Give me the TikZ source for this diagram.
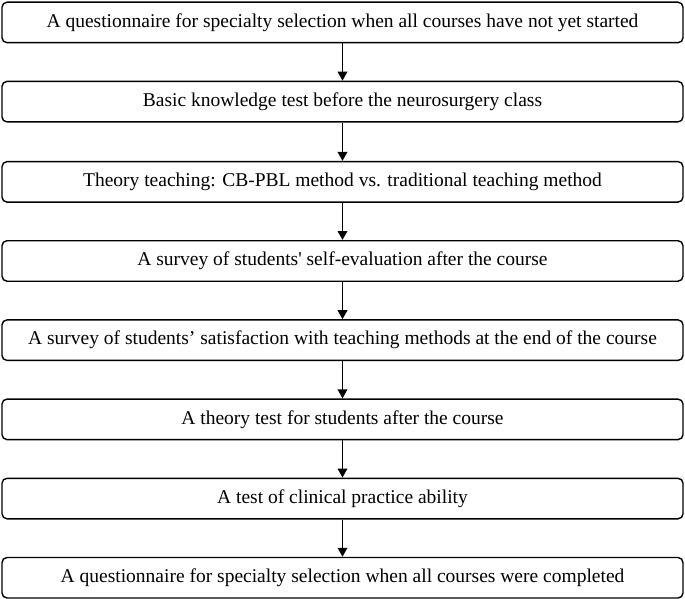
\documentclass[tikz,border=0pt]{standalone}
\usepackage{fontspec}
\setmainfont{Liberation Serif}
\usetikzlibrary{arrows.meta}
\begin{document}
\begin{tikzpicture}[x=1pt,y=-1pt,
  stepbox/.style={draw=black, line width=1.4pt, rounded corners=5pt, minimum width=681pt, minimum height=40.5pt, inner sep=0pt, font=\fontsize{19.5}{22}\selectfont, anchor=north},
  flow/.style={line width=1.8pt, -{Triangle[length=9pt,width=9.5pt]}}]
\useasboundingbox (0,0) rectangle (685,599);
\node[stepbox] (b1) at (342.5,1.5) {A questionnaire for specialty selection when all courses have not yet started};
\node[stepbox] (b2) at (342.5,80.7) {Basic knowledge test before the neurosurgery class};
\node[stepbox] (b3) at (342.5,160.9) {Theory teaching: CB-PBL method vs. traditional teaching method};
\node[stepbox] (b4) at (342.5,240) {A survey of students\textquotesingle\ self-evaluation after the course};
\node[stepbox] (b5) at (342.5,319.2) {A survey of students’ satisfaction with teaching methods at the end of the course};
\node[stepbox] (b6) at (342.5,398.4) {A theory test for students after the course};
\node[stepbox] (b7) at (342.5,477.6) {A test of clinical practice ability};
\node[stepbox] (b8) at (342.5,556.8) {A questionnaire for specialty selection when all courses were completed};
\foreach \a/\b in {b1/b2,b2/b3,b3/b4,b4/b5,b5/b6,b6/b7,b7/b8}
  \draw[flow] (\a.south) -- (\b.north);
\end{tikzpicture}
\end{document}
